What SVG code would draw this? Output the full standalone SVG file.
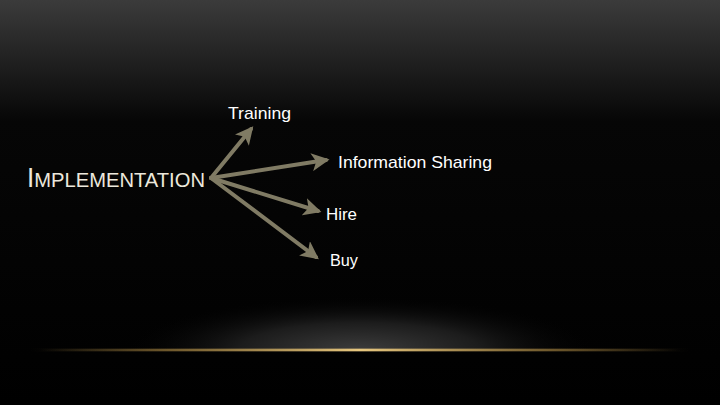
<svg xmlns="http://www.w3.org/2000/svg" width="720" height="405" viewBox="0 0 720 405">
<defs>
<linearGradient id="bg" x1="0" y1="0" x2="0" y2="1">
<stop offset="0" stop-color="#3b3b3b"/>
<stop offset="0.3" stop-color="#060606"/>
<stop offset="1" stop-color="#000"/>
</linearGradient>
<radialGradient id="glow" cx="0.5" cy="0.5" r="0.5">
<stop offset="0" stop-color="#3c3c3c"/>
<stop offset="0.5" stop-color="#1c1c1c"/>
<stop offset="1" stop-color="#000" stop-opacity="0"/>
</radialGradient>
<clipPath id="above"><rect x="0" y="0" width="720" height="349"/></clipPath>
<linearGradient id="gold" x1="0" y1="0" x2="1" y2="0">
<stop offset="0" stop-color="#a08040" stop-opacity="0"/>
<stop offset="0.2" stop-color="#a08040" stop-opacity="0.6"/>
<stop offset="0.5" stop-color="#e8c880"/>
<stop offset="0.8" stop-color="#a08040" stop-opacity="0.6"/>
<stop offset="1" stop-color="#a08040" stop-opacity="0"/>
</linearGradient>
<marker id="ah" viewBox="0 0 10 10" refX="8" refY="5" markerWidth="4.5" markerHeight="4.5" orient="auto" markerUnits="strokeWidth">
<path d="M0,0 L10,5 L0,10 L2.5,5 Z" fill="#807b64"/>
</marker>
<style>
.arr{stroke:#807b64;stroke-width:4;fill:none;marker-end:url(#ah);stroke-linecap:round}
.lbl{font-family:"Liberation Sans",Arial,sans-serif;font-size:17px;fill:#fff}
.title{font-family:"Liberation Sans Narrow","Liberation Sans",Arial,sans-serif;fill:#ece8dc}
</style>
</defs>
<rect width="720" height="405" fill="url(#bg)"/>
<ellipse cx="360" cy="350" rx="240" ry="55" fill="url(#glow)" clip-path="url(#above)"/>
<rect x="30" y="348" width="660" height="4" fill="url(#gold)" opacity="0.35"/>
<rect x="40" y="349" width="640" height="2" fill="url(#gold)"/>
<g id="connectors">
<path class="arr" d="M211,178 L251,129"/>
<path class="arr" d="M211,178 L326,160"/>
<path class="arr" d="M211,178 L318,211"/>
<path class="arr" d="M211,178 L316,257"/>
</g>
<g id="implementation">
<text class="title" x="27" y="187" textLength="178" lengthAdjust="spacingAndGlyphs"><tspan font-size="27">I</tspan><tspan font-size="21">MPLEMENTATION</tspan></text>
</g>
<g id="training"><text class="lbl" x="228" y="119" textLength="63" lengthAdjust="spacingAndGlyphs">Training</text></g>
<g id="info"><text class="lbl" x="338" y="168" textLength="154" lengthAdjust="spacingAndGlyphs">Information Sharing</text></g>
<g id="hire"><text class="lbl" x="326" y="220" textLength="31" lengthAdjust="spacingAndGlyphs">Hire</text></g>
<g id="buy"><text class="lbl" x="330" y="266" textLength="28" lengthAdjust="spacingAndGlyphs">Buy</text></g>
</svg>
